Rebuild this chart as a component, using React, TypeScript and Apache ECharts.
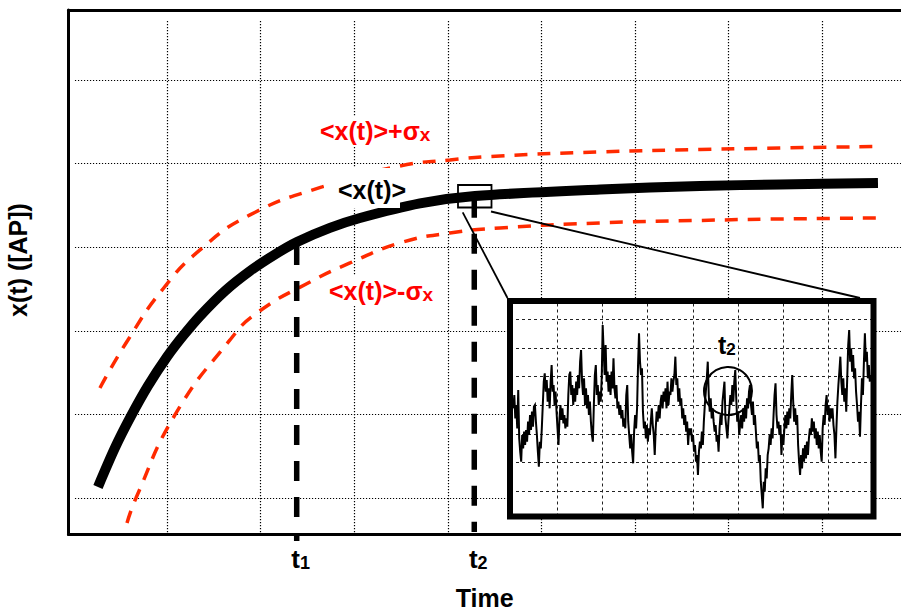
import React, { useEffect, useRef } from "react";
import * as echarts from "echarts";

// ---- main panel: time and mean concentration, in grid-cell units ----
const meanT = [0.263, 0.444, 0.605, 0.797, 1.0, 1.171, 1.353, 1.62, 1.887, 2.154, 2.389, 2.741, 3.062, 3.703, 4.29, 5.626, 6.694, 7.549, 8.596];
const meanX = [1.132, 1.598, 1.957, 2.34, 2.687, 2.938, 3.177, 3.476, 3.715, 3.913, 4.062, 4.23, 4.349, 4.524, 4.612, 4.69, 4.732, 4.75, 4.768];

const upperT = [0.284, 0.583, 0.957, 1.353, 1.887, 2.656, 3.489, 4.023, 4.557, 5.626, 6.694, 7.549, 8.543];
const upperX = [2.316, 2.89, 3.5, 3.967, 4.386, 4.721, 4.971, 5.043, 5.091, 5.139, 5.168, 5.186, 5.204];

const lowerT = [0.573, 0.669, 1.085, 1.673, 1.961, 2.528, 2.955, 3.489, 4.023, 4.557, 5.626, 6.694, 7.549, 8.606];
const lowerX = [0.701, 1.0, 1.993, 2.89, 3.213, 3.584, 3.811, 4.051, 4.17, 4.23, 4.29, 4.32, 4.337, 4.349];

// sampling instants marked on the time axis
const sampleTimes = [2.386, 4.283];
const sampleLabels = ["1", "2"];
const sampleTop = [4.026, 4.59];
const sampleBottom = [0.486, 0.593];

const mainVGrid = [1, 2, 3, 4, 5, 6, 7, 8];
const mainHGrid = [1, 2, 3, 4, 5, 6];

// ---- inset: fluctuating trace around t2 ----
const insetValues = [
  33.5, 37.5, 30.5, 34.5, 27.5, 39, 24.5, 20.5, 17.5, 25.5, 21.5, 26.5, 22.5, 27, 23.5, 29.5, 25.5, 31.5, 27, 32.5,
  28, 34, 34.5, 29.5, 25.5, 20.5, 16, 23.5, 21.5, 27.5, 34.5, 41.5, 44, 38.5, 42, 35.5, 39.5, 33.5, 41.5, 46.5,
  38.5, 40.5, 34.5, 38.5, 32.5, 27.5, 22.5, 30.5, 34.5, 30, 33.5, 29, 31.5, 27.5, 30.5, 28, 37.5, 43.5, 44.5, 37.5,
  40.5, 34.5, 39.5, 35.5, 41.5, 37.5, 43.5, 39.5, 47.5, 51, 41.5, 37.5, 42.5, 34.5, 39.5, 33.5, 37.5, 31.5, 35.5, 29.5,
  25.5, 23.5, 34.5, 43.5, 46.5, 37.5, 40.5, 34.5, 38.5,
  35.5, 42.5, 58.5, 50.5, 43.5, 52.5, 41.5, 44.5, 38.5, 43.5, 37.5, 44.5, 39.5, 48.5, 39.5, 36.5, 40.5, 33.5, 35.5, 31.5,
  34.5, 30.5, 33, 28, 30.5, 27.5, 37.5, 40.5, 29.5, 25.5, 21.5, 25.5, 20.5, 17, 26.5, 31.5, 27.5, 33.5, 46.5, 56,
  47.5, 43.5, 45.5, 32.5, 27.5, 29.5, 24.5, 28.5, 23.5, 27.5, 25.5, 29.5, 33.5, 28.5, 25.5, 19.5, 27.5, 32.5, 29.5, 34.5,
  30.5, 35.5, 37.5, 33.5, 38.5, 35.5, 39.5, 33.5, 41.5, 34.5, 38.5, 37.5, 42.5, 38.5, 41.5, 43.5, 49, 40.5, 42.5, 35.5,
  39.5, 34.5, 36.5, 30.5, 33.5, 28.5, 31.5, 26.5, 29.5, 22.5, 27.5, 25.5,
  27.5, 23.5, 25.5, 20.5, 22.5, 17.5, 19.5, 13.5, 20.5, 23.5, 21.5, 26.5, 22.5, 29.5, 34.5, 38.5, 42.5, 47.5, 37.5, 32.5,
  36.5, 30.5, 33.5, 29.5, 26.5, 28.5, 23.5, 25.5, 20.5, 27.5, 31.5, 28.5, 35.5, 38.5, 41.5, 30.5, 27.5, 24.5, 29.5, 33.5,
  37.5, 34.5, 40.5, 35.5, 41.5, 45, 36.5, 29.5, 32.5, 25.5, 28.5, 31.5, 27.5, 33.5, 29.5, 34.5, 30.5, 36.5, 33.5, 38.5,
  40.5, 34.5, 31.5, 35.5, 28.5, 31.5, 26.5, 21.5, 23.5, 17.5, 19.5, 11.5, 7.5, 3.5, 11.5, 8.5, 15.5, 12.5, 19.5, 21.5,
  25.5, 22.5, 27.5, 24.5, 31.5, 37.5, 41, 31.5, 27.5, 29.5, 25.5, 28.5,
  19.5, 25.5, 22.5, 27.5, 31.5, 27.5, 32.5, 28.5, 33.5, 30.5, 37.5, 43.5, 35.5, 29.5, 33.5, 28.5, 31.5, 22.5, 17.5, 13.5,
  19.5, 15.5, 21.5, 17.5, 22.5, 18.5, 23.5, 19.5, 24.5, 27.5, 25.5, 30.5, 26.5, 29.5, 24.5, 27.5, 22.5, 26.5, 21.5, 25.5,
  20.5, 17.5, 27.5, 31.5, 28.5, 34.5, 37.5, 31.5, 34.5, 29.5, 33.5, 30.5, 33.5, 28.5, 25.5, 18.5, 27.5, 35.5, 40.5, 44.5,
  49, 41.5, 37.5, 42.5, 35.5, 39.5, 32.5, 42.5, 52.5, 57, 47.5, 51.5, 44.5, 49.5, 42.5, 45.5, 38.5, 34.5, 29.5, 32.5,
  25, 34.5, 42.5, 37.5, 47.5, 56, 47.5, 50.5, 42.5, 46.5, 41.5, 43.5,
];
const insetStart = 0.027;
const insetEnd = 7.94;
const insetVGrid = [1, 2, 3, 4, 5, 6, 7];
const insetHGrid = [8.6, 17.2, 25.8, 34.4, 43.0, 51.6, 60.2];

// axis ranges
const X_MIN = -0.052;
const X_MAX = 8.842;
const Y_MIN = 0.563;
const Y_MAX = 6.837;
const V_GRID_TOP = 6.706;
const H_GRID_LEFT = 0.017;

const FONT = '"Liberation Sans", Arial, Helvetica, sans-serif';
const RED_LINE = "#ff2a00";
const RED_TEXT = "#ff0000";

const zip = (a: number[], b: number[]) => a.map((v, i) => [v, b[i]]);

function subLabel(main: string, sub: string, x: number, y: number, color: string, size: number, subSize: number, subLH: number, z: number, bg?: string) {
  return {
    type: "text",
    x,
    y,
    z,
    style: {
      text: `{m|${main}}{s|${sub}}`,
      verticalAlign: "middle",
      align: "left",
      backgroundColor: bg,
      padding: bg ? [2, 3, 2, 3] : 0,
      rich: {
        m: { fontSize: size, fontWeight: "bold", fontFamily: FONT, fill: color, lineHeight: size + 1 },
        s: { fontSize: subSize, fontWeight: "bold", fontFamily: FONT, fill: color, lineHeight: subLH, verticalAlign: "bottom" },
      },
    },
  };
}

export default function App() {
  const ref = useRef<HTMLDivElement>(null);

  useEffect(() => {
    if (!ref.current) return;
    const chart = echarts.init(ref.current, undefined, { renderer: "svg" });

    const mainGridLines = [
      ...mainVGrid.map((t) => [{ coord: [t, V_GRID_TOP] }, { coord: [t, Y_MIN] }]),
      ...mainHGrid.map((y) => [{ coord: [H_GRID_LEFT, y] }, { coord: [X_MAX, y] }]),
    ];

    const insetData = insetValues.map((v, i) => [
      insetStart + (i * (insetEnd - insetStart)) / (insetValues.length - 1),
      v,
    ]);

    const curve = (name: string, t: number[], x: number[], color: string, width: number, dash: any, z: number, smooth: number) => ({
      name,
      type: "line",
      xAxisIndex: 0,
      yAxisIndex: 0,
      data: zip(t, x),
      smooth,
      symbol: "none",
      z,
      lineStyle: { color, width, type: dash, cap: "butt" },
    });

    const option: any = {
      animation: false,
      backgroundColor: "#ffffff",
      grid: [
        { left: 68.5, right: 0, top: 10, bottom: 77.5, outerBoundsMode: "none", containLabel: false },
        { left: 510, top: 301, width: 363.5, height: 215.5, outerBoundsMode: "none", containLabel: false },
      ],
      xAxis: [
        {
          gridIndex: 0,
          type: "value",
          min: X_MIN,
          max: X_MAX,
          axisLine: { show: true, onZero: false, lineStyle: { color: "#000", width: 3 } },
          axisTick: { show: false },
          splitLine: { show: false },
          axisLabel: {
            show: true,
            customValues: sampleTimes,
            margin: 11,
            padding: [0, 0, 0, 8],
            formatter: (v: number) => {
              let k = 0;
              sampleTimes.forEach((s, i) => {
                if (Math.abs(s - v) < Math.abs(sampleTimes[k] - v)) k = i;
              });
              return `{t|t}{s|${sampleLabels[k]}}`;
            },
            rich: {
              t: { fontSize: 26, fontWeight: "bold", fontFamily: FONT, color: "#000", lineHeight: 26 },
              s: { fontSize: 18, fontWeight: "bold", fontFamily: FONT, color: "#000", lineHeight: 8, verticalAlign: "bottom" },
            },
          },
          name: "Time",
          nameLocation: "middle",
          nameGap: 51,
          nameTextStyle: { fontSize: 25, fontWeight: "bold", fontFamily: FONT, color: "#000", lineHeight: 25 },
        },
        {
          gridIndex: 0,
          type: "value",
          position: "top",
          min: X_MIN,
          max: X_MAX,
          axisLine: { show: true, onZero: false, lineStyle: { color: "#000", width: 3 } },
          axisTick: { show: false },
          axisLabel: { show: false },
          splitLine: { show: false },
        },
        { gridIndex: 1, type: "value", min: -0.0465, max: 8.0, show: false },
      ],
      yAxis: [
        {
          gridIndex: 0,
          type: "value",
          min: Y_MIN,
          max: Y_MAX,
          axisLine: { show: true, onZero: false, lineStyle: { color: "#000", width: 3 } },
          axisTick: { show: false },
          axisLabel: { show: false },
          splitLine: { show: false },
        },
        { gridIndex: 1, type: "value", min: 1.05, max: 65.7, show: false },
      ],
      series: [
        {
          name: "grid",
          type: "line",
          xAxisIndex: 0,
          yAxisIndex: 0,
          data: [],
          silent: true,
          z: 1,
          markLine: {
            z: 1,
            silent: true,
            symbol: ["none", "none"],
            label: { show: false },
            emphasis: { disabled: true },
            lineStyle: { color: "#000", width: 1.2, type: [1.2, 1.8] },
            data: mainGridLines,
          },
        },
        curve("<x(t)>+σx", upperT, upperX, RED_LINE, 3.5, [13, 10], 2, 0.5),
        curve("<x(t)>-σx", lowerT, lowerX, RED_LINE, 3.5, [13, 10], 2, 0.5),
        curve("<x(t)>", meanT, meanX, "#000", 10, "solid", 3, 0.3),
        ...sampleTimes.map((t, i) => ({
          name: "t" + sampleLabels[i],
          type: "line",
          xAxisIndex: 0,
          yAxisIndex: 0,
          data: [
            [t, sampleTop[i]],
            [t, sampleBottom[i]],
          ],
          symbol: "none",
          clip: false,
          z: 4,
          lineStyle: { color: "#000", width: 5.5, type: [20, 16], cap: "butt" },
        })),
        {
          name: "inset grid",
          type: "line",
          xAxisIndex: 2,
          yAxisIndex: 1,
          data: [],
          silent: true,
          z: 11,
          markLine: {
            z: 11,
            silent: true,
            symbol: ["none", "none"],
            label: { show: false },
            emphasis: { disabled: true },
            lineStyle: { color: "#222", width: 1, type: [3, 3] },
            data: [...insetVGrid.map((u) => ({ xAxis: u })), ...insetHGrid.map((v) => ({ yAxis: v }))],
          },
        },
        {
          name: "x(t)",
          type: "line",
          xAxisIndex: 2,
          yAxisIndex: 1,
          data: insetData,
          symbol: "none",
          z: 12,
          lineStyle: { color: "#000", width: 2, join: "miter" },
        },
      ],
      graphic: [
        // inset panel
        { type: "rect", z: 10, silent: true, shape: { x: 510, y: 301, width: 363.5, height: 215.5 }, style: { fill: "#fff" } },
        { type: "rect", z: 20, silent: true, shape: { x: 510, y: 301, width: 363.5, height: 215.5 }, style: { fill: "none", stroke: "#000", lineWidth: 6 } },
        // zoom window and its connectors
        { type: "rect", z: 15, silent: true, shape: { x: 458, y: 185, width: 33.5, height: 22.5 }, style: { fill: "none", stroke: "#000", lineWidth: 1.8 } },
        { type: "line", z: 15, silent: true, shape: { x1: 462.7, y1: 212.3, x2: 507.5, y2: 298 }, style: { stroke: "#000", lineWidth: 1.8 } },
        { type: "line", z: 15, silent: true, shape: { x1: 491, y1: 211.5, x2: 860, y2: 298 }, style: { stroke: "#000", lineWidth: 1.8 } },
        { type: "circle", z: 21, silent: true, shape: { cx: 728, cy: 391, r: 24 }, style: { fill: "none", stroke: "#000", lineWidth: 2 } },
        subLabel("t", "2", 718, 345, "#000", 25, 17, 8, 21),
        // curve labels
        { type: "rect", z: 5, silent: true, shape: { x: 324, y: 168, width: 76, height: 40 }, style: { fill: "#fff" } },
        {
          type: "text",
          z: 6,
          x: 338,
          y: 190,
          style: { text: "<x(t)>", fill: "#000", fontSize: 25, fontWeight: "bold", fontFamily: FONT, verticalAlign: "middle", align: "left" },
        },
        subLabel("<x(t)>+σ", "x", 317, 131, RED_TEXT, 25, 19, 12, 6, "#fff"),
        subLabel("<x(t)>-σ", "x", 326, 291, RED_TEXT, 25, 19, 12, 6, "#fff"),
        // vertical axis title
        {
          type: "text",
          z: 6,
          x: 18,
          y: 260,
          rotation: Math.PI / 2,
          style: { text: "x(t) ([AP])", fill: "#000", fontSize: 25, fontWeight: "bold", fontFamily: FONT, align: "center", verticalAlign: "middle" },
        },
      ],
    };

    chart.setOption(option);
    return () => chart.dispose();
  }, []);

  return (
    <div
      ref={ref}
      style={{ position: "absolute", left: 0, top: 0, width: 901, height: 612, background: "#fff" }}
    />
  );
}
